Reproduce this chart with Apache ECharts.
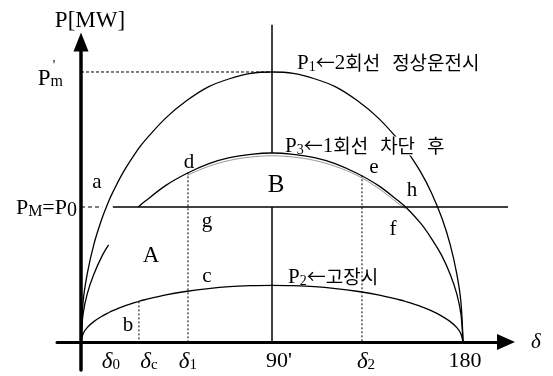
<!DOCTYPE html>
<html>
<head>
<meta charset="utf-8">
<script src="https://cdn.jsdelivr.net/npm/echarts@6/dist/echarts.min.js"></script>
<style>
  html, body { margin: 0; padding: 0; background: #fff; }
  #chart { width: 553px; height: 376px; }
</style>
</head>
<body>
<div id="chart"></div>
<script>
// Power–angle (P–δ) curves of a generator on a double-circuit line:
// normal operation, during the fault, and after one circuit is tripped.

// load angle δ in degrees
const angles = [0, 1, 3, 6, 10, 13, 15, 20, 27, 30, 40, 50, 60, 70, 80, 90, 100, 110, 120, 130, 140, 150, 153, 160, 165, 170, 174, 177, 179, 180];
// P1: both circuits in service
const p1Normal = [0, 0.30, 0.51, 0.72, 0.92, 1.04, 1.11, 1.26, 1.43, 1.49, 1.66, 1.79, 1.89, 1.95, 1.99, 2.00, 1.99, 1.95, 1.89, 1.79, 1.66, 1.49, 1.43, 1.26, 1.11, 0.92, 0.72, 0.51, 0.30, 0];
// P3: one circuit tripped (curve is interrupted between 13° and 27°)
const p3OneLine = [0, 0.21, 0.36, 0.50, 0.64, 0.72, '-', '-', 1.00, 1.04, 1.16, 1.25, 1.32, 1.365, 1.39, 1.40, 1.39, 1.365, 1.32, 1.25, 1.16, 1.04, 1.00, 0.88, 0.77, 0.64, 0.50, 0.36, 0.21, 0];
// P2: during the fault
const p2Fault = [0, 0.062, 0.108, 0.151, 0.192, 0.217, 0.232, 0.264, 0.300, 0.313, 0.349, 0.376, 0.396, 0.410, 0.417, 0.420, 0.417, 0.410, 0.396, 0.376, 0.349, 0.313, 0.300, 0.264, 0.232, 0.192, 0.151, 0.108, 0.062, 0];
// faint trace just under P3 between δ1 and h
const traceAngles = [50, 60, 70, 80, 90, 100, 110, 120, 130, 140, 150, 153];
const traceValues = [1.235, 1.30, 1.345, 1.37, 1.38, 1.37, 1.345, 1.30, 1.235, 1.14, 1.02, 0.985];

// mechanical input and peak power
const p0 = 1.0;
const pMax = 2.0;
// P0 line: dashed start, gap around the P1 crossing, then solid
const p0DashEnd = 10;
const p0SolidStart = 15;
const p0SolidEnd = 204;
// top of the 90° guide
const guideTop = 2.35;

// characteristic angles and the curve heights where their guides stop
const deltaC = 27.3, deltaCTop = 0.301;   // on P2
const delta1 = 50.4, delta1Top = 1.257;   // point d on P3
const delta2 = 132.4, delta2Top = 1.235;  // point e on P3

// axis tick labels
const xTickValues = [12.2, 27.3, 50.4, 90, 132.4, 180];
const xTickLabels = ['δ0', 'δc', 'δ1', "90'", 'δ2', '180'];
const yTickValues = [2.0, 1.0];
const yTickLabels = ["P'm", 'PM=P0'];

const ink = '#000';
const serif = '"Liberation Serif", "Times New Roman", serif';
const kr = '"Noto Sans CJK KR", sans-serif';

// axis ranges: both axes run a little past the origin
const xMin = -11.31, xMax = 200.26;
const yMin = -0.2074, yMax = 2.2222;

const pairs = (xs, ys) => xs.map((x, i) => [x, ys[i]]);
function curve(name, data, extra) {
  return Object.assign({
    name, type: 'line', data, symbol: 'none', silent: true, clip: false,
    smooth: 0.35, connectNulls: false, xAxisIndex: 0, yAxisIndex: 0,
    lineStyle: { color: ink, width: 1.3 }
  }, extra || {});
}
function guide(name, data, type, width) {
  return curve(name, data, { smooth: false, lineStyle: { color: ink, width: width || 1, type: type || 'solid' } });
}

// per-label horizontal nudge of the x tick labels (px)
const xShift = [4, 10, 0, 7, 4, 2];
const xRich = {
  s: { fontFamily: serif, fontSize: 15, color: ink, padding: [7, 0, 0, 0] }
};
xShift.forEach((d, i) => {
  xRich['g' + i] = { fontFamily: serif, fontStyle: 'italic', fontSize: 23, color: ink, padding: [0, 0, 0, 2 * d] };
  xRich['n' + i] = { fontFamily: serif, fontSize: 22, color: ink, padding: [0, 0, 0, 2 * d] };
});

const yRich = {
  pmP: { fontFamily: serif, fontSize: 23, color: ink, padding: [13, 0, 0, 0] },
  pmS: { fontFamily: serif, fontSize: 16, color: ink, padding: [19, 14, 0, 0] },
  p0P: { fontFamily: serif, fontSize: 22, color: ink, padding: [3, 0, 0, 0] },
  p0M: { fontFamily: serif, fontSize: 16, color: ink, padding: [10, 0, 0, 0] },
  p0E: { fontFamily: serif, fontSize: 22, color: ink, padding: [3, 0, 0, 0] },
  p0Z: { fontFamily: serif, fontSize: 20, color: ink, padding: [8, 0, 0, 0] }
};

const idxOf = (arr, v) => arr.findIndex(a => Math.abs(a - v) < 1e-6);

// curve captions and area / point letters
const pRich = {
  P: { fontFamily: serif, fontSize: 21, fill: ink },
  s: { fontFamily: serif, fontSize: 14, fill: ink, padding: [8, 0, 0, 0] },
  n: { fontFamily: serif, fontSize: 21, fill: ink },
  k: { fontFamily: kr, fontSize: 19, fill: ink },
  w: { fontFamily: kr, fontSize: 19, fill: ink, backgroundColor: '#fff' },
  gap: { fontFamily: kr, fontSize: 19, width: 12 }
};
function caption(x, y, text) {
  return { type: 'text', x, y, silent: true, z: 10,
    style: { text, rich: pRich, align: 'left', verticalAlign: 'middle' } };
}
function letter(x, y, text, size) {
  return { type: 'text', x, y, silent: true, z: 10,
    style: { text, fill: ink, fontFamily: serif, fontSize: size || 21, align: 'center', verticalAlign: 'middle' } };
}

const hidden = { axisTick: { show: false }, splitLine: { show: false } };

const option = {
  animation: false,
  backgroundColor: '#fff',
  grid: { left: 57, right: 47, top: 42, bottom: 6, containLabel: false, outerBoundsMode: 'none' },
  xAxis: [
    // axis line through the origin, with arrow and name
    Object.assign({
      type: 'value', min: xMin, max: xMax,
      name: 'δ', nameLocation: 'end', nameGap: 25,
      nameTextStyle: { fontFamily: serif, fontStyle: 'italic', fontSize: 21, color: ink, padding: [8, 0, 0, 0] },
      axisLine: { onZero: true, symbol: ['none', 'triangle'], symbolSize: [16, 18], lineStyle: { color: ink, width: 3 } },
      axisLabel: { show: false }
    }, hidden),
    // tick labels just under the origin line
    Object.assign({
      type: 'value', min: xMin, max: xMax, position: 'bottom', offset: -28,
      axisLine: { show: false },
      axisLabel: {
        customValues: xTickValues, margin: 8, color: ink,
        formatter: v => {
          const i = idxOf(xTickValues, v);
          const t = xTickLabels[i];
          if (t.charAt(0) === 'δ') return '{g' + i + '|δ}{s|' + t.slice(1) + '}';
          return '{n' + i + '|' + t + '}';
        },
        rich: xRich
      }
    }, hidden)
  ],
  yAxis: [
    Object.assign({
      type: 'value', min: yMin, max: yMax,
      name: 'P[MW]', nameLocation: 'end', nameGap: 10,
      nameTextStyle: { fontFamily: serif, fontSize: 23, color: ink, padding: [0, 0, 0, 18] },
      axisLine: { onZero: true, symbol: ['none', 'triangle'], symbolSize: [15, 19], lineStyle: { color: ink, width: 3.5 } },
      axisLabel: { show: false }
    }, hidden),
    Object.assign({
      type: 'value', min: yMin, max: yMax, position: 'left', offset: -24,
      axisLine: { show: false },
      axisLabel: {
        customValues: yTickValues, margin: 4, color: ink,
        formatter: v => {
          const t = yTickLabels[idxOf(yTickValues, v)];
          if (t === "P'm") return '{pmP|P}{pmS|m}';
          return '{p0P|P}{p0M|M}{p0E|=P}{p0Z|0}';
        },
        rich: yRich
      }
    }, hidden)
  ],
  series: [
    curve('P1', pairs(angles, p1Normal)),
    curve('P3', pairs(angles, p3OneLine)),
    curve('P2', pairs(angles, p2Fault)),
    curve('trace', pairs(traceAngles, traceValues), { lineStyle: { color: '#8a8a8a', width: 0.9 } }),
    guide('P0 dashed', [[0, p0], [p0DashEnd, p0]], [4, 3], 1.2),
    guide('P0', [[p0SolidStart, p0], [p0SolidEnd, p0]], 'solid', 1.3),
    guide("P'm", [[0, pMax], [90, pMax]], [3, 2], 1),
    guide('90° upper', [[90, guideTop], [90, 1.40]], 'solid', 1.5),
    guide('90° lower', [[90, p0], [90, 0]], 'solid', 1.5),
    guide('δc', [[deltaC, deltaCTop], [deltaC, 0]], [2, 2], 1),
    guide('δ1', [[delta1, delta1Top], [delta1, 0]], [2, 2], 1),
    guide('δ2', [[delta2, delta2Top], [delta2, 0]], [2, 2], 1)
  ],
  graphic: [
    caption(297, 63, '{P|P}{s|1}{k|←}{n|2}{k|회선}{gap| }{k|정상운전시}'),
    caption(285, 146, '{P|P}{s|3}{k|←}{n|1}{k|회선}{gap| }{w|차단}{gap| }{k|후}'),
    caption(288, 277, '{P|P}{s|2}{k|←고장시}'),
    { type: 'text', x: 54, y: 66, silent: true, style: { text: "'", fill: ink, fontFamily: serif, fontSize: 14, align: 'center', verticalAlign: 'middle' } },
    letter(97, 182, 'a'),
    letter(128, 325, 'b'),
    letter(207, 276, 'c'),
    letter(189, 162, 'd'),
    letter(374, 167, 'e'),
    letter(393, 229, 'f'),
    letter(207, 221, 'g'),
    letter(412, 190, 'h'),
    letter(151, 256, 'A', 23),
    letter(276, 185, 'B', 25)
  ]
};

const chart = echarts.init(document.getElementById('chart'), null, { renderer: 'canvas' });
chart.setOption(option);
</script>
</body>
</html>
